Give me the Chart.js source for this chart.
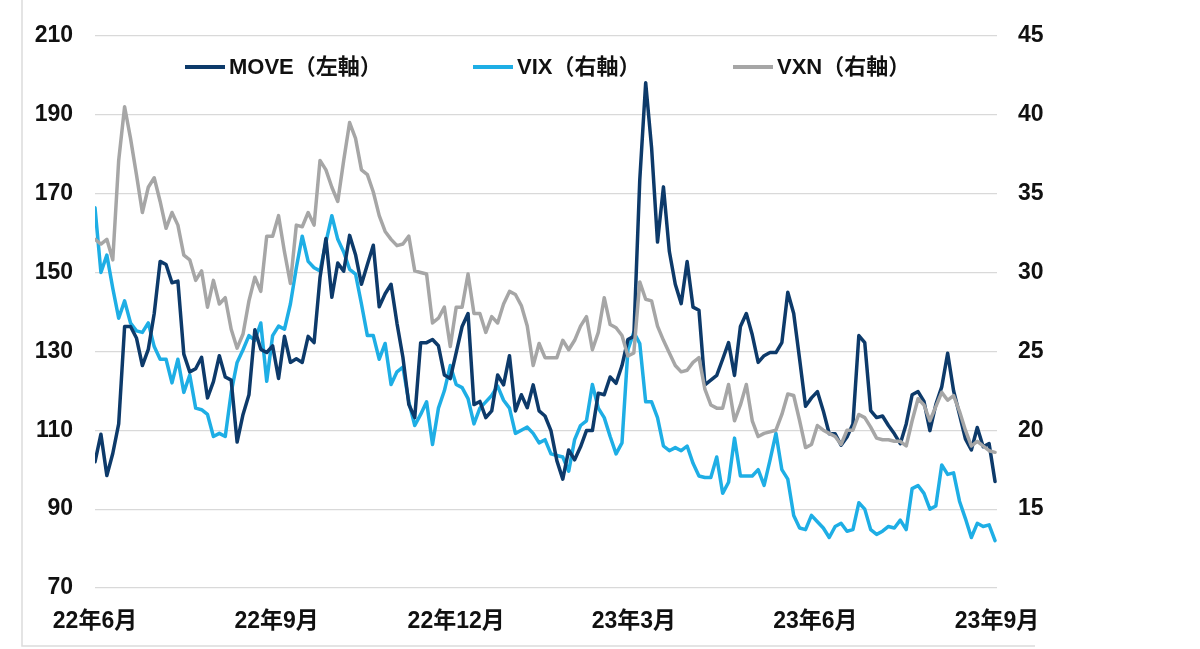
<!DOCTYPE html>
<html><head><meta charset="utf-8">
<script src="https://cdn.jsdelivr.net/npm/chart.js@4/dist/chart.umd.min.js"></script>
<style>html,body{margin:0;padding:0;background:#fff;}#wrap{width:1200px;height:649px;}</style>
</head><body><div id="wrap"><canvas id="c" width="1200" height="649"></canvas></div>
<script>
// ---- data (sampled every 3 days from 2022-06-01) ----
const START_DATE = '2022-06-01';
const STEP_DAYS = 3;
const seriesNames = ['MOVE（左軸）', 'VIX（右軸）', 'VXN（右軸）'];
const MOVE = [
 102,109,98.5,104.1,111.6,136.3,136.3,133.4,126.4,130.5,
 139.6,152.8,152.0,147.4,147.8,129.3,124.8,125.6,128.5,118.2,
 122.3,128.9,123.5,122.7,107,114.0,119.0,135.5,130.5,129.7,
 131.4,123.1,133.8,127.2,128.1,127.2,133.8,132.2,148.7,158.6,
 143.7,152.4,150.3,159.4,154.5,147.0,152.0,156.9,141.3,144.6,
 147.0,137.1,128.5,116.5,113.2,132.2,132.2,133.0,131.4,124.0,
 123.1,129.7,136.3,139.6,116.5,117.3,113.2,114.9,124.0,121.5,
 128.9,114.9,119.0,115.7,121.5,114.9,113.6,109.9,102.3,97.6,
 105.0,102.5,105.8,109.9,109.9,119.4,119.0,123.5,121.9,126.4,
 133.0,133.8,173.4,198.1,181.6,157.7,171.7,155.3,147.0,142.1,
 152.8,141.2,140.4,121.5,122.7,123.9,128.0,132.2,123.9,136.3,
 139.6,134.2,127.2,128.9,129.7,129.7,132.2,145.0,139.6,128.0,
 116.1,118.2,119.8,114.9,109.1,109.1,106.2,108.3,111.6,134.0,
 132.2,115,113.2,113.6,111.2,109.1,106.6,111.6,119.0,119.8,
 117.3,109.9,116.5,121.0,129.5,120.0,114.0,107.8,105.0,110.7,
 105.8,106.6,97
];
const VIX = [
 34.1,30.0,31.1,29.0,27.1,28.2,26.8,26.3,26.2,26.8,
 25.3,24.5,24.5,23.0,24.5,22.4,23.5,21.4,21.3,21.0,
 19.6,19.8,19.6,22.4,24.3,25.1,26.0,25.7,26.8,23.1,
 26.0,26.6,26.4,28.0,30.3,32.3,30.7,30.3,30.1,31.9,
 33.6,32.1,31.3,30.2,29.9,28.0,26.0,26.0,24.5,25.5,
 22.9,23.7,24.0,21.8,20.3,21.0,21.8,19.1,21.4,22.5,
 24.1,22.9,22.7,22.0,20.4,21.4,21.8,22.2,22.8,21.9,
 21.4,19.8,20.0,20.2,19.8,19.2,19.4,18.5,18.4,18.3,
 17.4,19.4,20.3,20.6,22.9,21.4,20.8,19.6,18.5,19.2,
 25.1,26.2,25.5,21.8,21.8,20.8,19.0,18.7,18.9,18.7,
 19.0,17.9,17.1,17.0,17.0,18.3,16.0,16.7,19.5,17.1,
 17.1,17.1,17.5,16.5,18.1,19.8,17.5,16.9,14.6,13.8,
 13.7,14.6,14.2,13.8,13.2,13.9,14.1,13.6,13.7,15.4,
 15.0,13.7,13.4,13.6,13.9,13.8,14.3,13.7,16.3,16.5,
 16.0,15.0,15.2,17.8,17.2,17.3,15.5,14.4,13.2,14.1,
 13.9,14.0,13.0
];
const VXN = [
 32.1,31.8,32.1,30.8,37.1,40.5,38.5,36.2,33.8,35.4,
 36.0,34.5,32.8,33.8,33.0,31.1,30.8,29.5,30.1,27.8,
 29.5,28.0,28.4,26.4,25.2,26.1,28.2,29.7,28.8,32.3,
 32.3,33.6,31.3,29.3,33.0,32.9,33.8,33.0,37.1,36.5,
 35.4,34.5,37.1,39.5,38.5,36.5,36.2,35.1,33.6,32.6,
 32.1,31.7,31.8,32.3,30.1,30.0,29.9,26.8,27.1,27.8,
 25.3,27.8,27.8,29.9,27.4,27.4,26.2,27.2,26.8,28.0,
 28.8,28.6,27.9,26.6,24.1,25.5,24.6,24.6,24.6,25.7,
 25.1,25.7,26.6,27.2,25.1,26.2,28.4,26.7,26.5,26.0,
 24.7,24.9,29.4,28.3,28.2,26.6,25.7,24.9,24.1,23.7,
 23.8,24.3,24.6,22.6,21.6,21.4,21.4,22.9,20.6,21.6,
 22.9,20.6,19.6,19.8,19.9,20.0,21.0,22.3,22.2,20.6,
 18.9,19.1,20.3,20.0,19.8,19.6,19.1,20.0,20.0,21.0,
 20.8,20.2,19.5,19.4,19.4,19.3,19.3,19.0,20.6,22.0,
 21.6,20.6,21.5,22.4,21.9,22.2,21.2,20.0,19.0,19.3,
 19.0,18.7,18.6
];
const tickDates = ['2022-06-01','2022-09-01','2022-12-01','2023-03-01','2023-06-01','2023-09-01'];
const tickLabels = ['22年6月','22年9月','22年12月','23年3月','23年6月','23年9月'];
const leftTicks = [70, 90, 110, 130, 150, 170, 190, 210];
const rightTicks = [15, 20, 25, 30, 35, 40, 45];

// ---- helpers ----
const DAY = 86400000;
const startMs = Date.parse(START_DATE);
const dayOf = s => (Date.parse(s) - startMs) / DAY;
const toPoints = arr => arr.map((v, i) => ({x: i * STEP_DAYS, y: v}));
const FONT = "'Liberation Sans', Arial, 'Noto Sans CJK JP', sans-serif";
const C_MOVE = '#0d3a6a', C_VIX = '#1eaee5', C_VXN = '#a6a6a6';

const framePlugin = {
  id: 'frame',
  beforeDraw(chart) {
    const ctx = chart.ctx;
    ctx.save();
    ctx.fillStyle = '#fff';
    ctx.fillRect(0, 0, chart.width, chart.height);
    ctx.strokeStyle = '#dcdcdc';
    ctx.lineWidth = 1.5;
    ctx.beginPath();
    ctx.moveTo(22, 0); ctx.lineTo(22, 646); ctx.lineTo(1035, 646);
    ctx.stroke();
    ctx.restore();
  }
};
const legendPlugin = {
  id: 'customLegend',
  afterDraw(chart) {
    const ctx = chart.ctx;
    const xs = [185, 473, 733];
    const y = 67;
    ctx.save();
    chart.data.datasets.forEach((ds, i) => {
      ctx.strokeStyle = ds.borderColor;
      ctx.lineWidth = 4;
      ctx.beginPath();
      ctx.moveTo(xs[i], y); ctx.lineTo(xs[i] + 40, y);
      ctx.stroke();
      ctx.fillStyle = '#111';
      ctx.font = 'bold 22px ' + FONT;
      ctx.textBaseline = 'middle';
      ctx.textAlign = 'left';
      ctx.fillText(ds.label, xs[i] + 44, y + 1);
    });
    ctx.restore();
  }
};

new Chart(document.getElementById('c'), {
  type: 'line',
  data: {
    datasets: [
      {label: seriesNames[0], data: toPoints(MOVE), yAxisID: 'y', borderColor: C_MOVE, backgroundColor: C_MOVE, order: 1},
      {label: seriesNames[1], data: toPoints(VIX), yAxisID: 'y2', borderColor: C_VIX, backgroundColor: C_VIX, order: 2},
      {label: seriesNames[2], data: toPoints(VXN), yAxisID: 'y2', borderColor: C_VXN, backgroundColor: C_VXN, order: 0}
    ]
  },
  options: {
    responsive: false,
    animation: false,
    devicePixelRatio: 1,
    layout: {padding: {left: 0, right: 0, top: 22, bottom: 0}},
    elements: {
      line: {borderWidth: 3.5, tension: 0, borderJoinStyle: 'round', borderCapStyle: 'round'},
      point: {radius: 0, hoverRadius: 0}
    },
    plugins: {legend: {display: false}, tooltip: {enabled: false}},
    scales: {
      x: {
        type: 'linear',
        min: dayOf(tickDates[0]),
        max: dayOf(tickDates[tickDates.length - 1]),
        grid: {display: false, drawTicks: false},
        border: {display: false},
        afterBuildTicks: s => { s.ticks = tickDates.map(d => ({value: dayOf(d)})); },
        afterFit: s => { s.height = 61; },
        ticks: {
          autoSkip: false, maxRotation: 0, padding: 20, color: '#111',
          font: {family: FONT, size: 23, weight: 'bold'},
          callback: (v, i) => tickLabels[i]
        }
      },
      y: {
        position: 'left', min: 70, max: 210,
        afterBuildTicks: s => { s.ticks = leftTicks.map(v => ({value: v})); },
        afterFit: s => { s.width = 95; },
        grid: {color: '#d9d9d9', lineWidth: 1.2, drawTicks: false},
        border: {display: false},
        ticks: {padding: 22, color: '#111', font: {family: FONT, size: 23, weight: 'bold'}}
      },
      y2: {
        position: 'right', min: 10, max: 45,
        afterBuildTicks: s => { s.ticks = rightTicks.map(v => ({value: v})); },
        afterFit: s => { s.width = 203; },
        grid: {display: false, drawTicks: false},
        border: {display: false},
        ticks: {padding: 21, color: '#111', font: {family: FONT, size: 23, weight: 'bold'}}
      }
    }
  },
  plugins: [framePlugin, legendPlugin]
});
</script></body></html>
